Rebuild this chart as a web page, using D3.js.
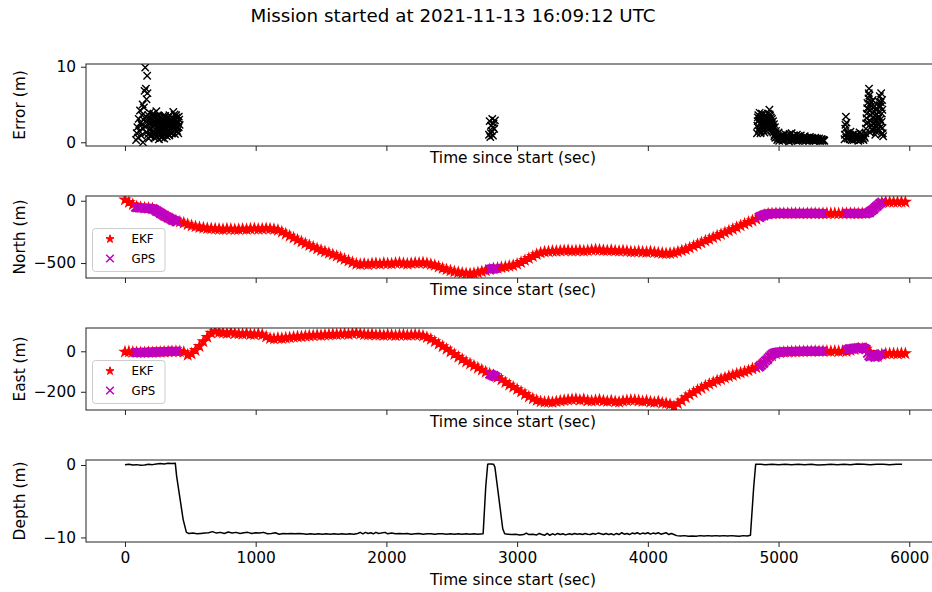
<!DOCTYPE html>
<html>
<head>
<meta charset="utf-8">
<script src="https://cdn.jsdelivr.net/npm/d3@7"></script>
<style>
  body { margin: 0; background: #fff; }
  svg { display: block; }
  text { font-family: "DejaVu Sans", sans-serif; fill: #000; }
</style>
</head>
<body>
<svg id="chart" width="932" height="592"></svg>
<script>
// ---- data -------------------------------------------------------------
const titleText = "Mission started at 2021-11-13 16:09:12 UTC";
const xLabel = "Time since start (sec)";
const xTicks = [0, 1000, 2000, 3000, 4000, 5000, 6000];

const errorTicks = [0, 10];
const northTicks = [0, -500];
const eastTicks = [0, -200];
const depthTicks = [0, -10];

// EKF position estimate, one sample every ekfStep seconds from t = 0
const ekfStep = 30;
const ekfNorth = [
  8, -12, -30, -47, -54, -58, -60, -64, -78, -97,
  -115, -132, -148, -160, -169, -178, -190, -200, -207, -213,
  -218, -221, -224, -225, -228, -229, -226, -228, -231, -229,
  -227, -229, -226, -224, -228, -226, -223, -225, -229, -236,
  -250, -266, -282, -298, -314, -329, -344, -358, -371, -385,
  -397, -409, -420, -432, -444, -457, -469, -481, -495, -507,
  -510, -506, -512, -505, -503, -508, -501, -504, -506, -500,
  -498, -503, -507, -502, -499, -500, -497, -503, -510, -518,
  -530, -542, -552, -561, -569, -575, -580, -584, -586, -583,
  -577, -568, -560, -552, -545, -540, -535, -530, -524, -519,
  -508, -494, -478, -462, -446, -430, -418, -410, -408, -404,
  -405, -402, -400, -398, -403, -401, -399, -403, -400, -396,
  -393, -395, -398, -400, -397, -402, -404, -401, -405, -409,
  -410, -407, -411, -413, -409, -414, -418, -421, -424, -422,
  -418, -410, -400, -390, -378, -364, -350, -337, -322, -309,
  -295, -282, -269, -255, -241, -228, -214, -200, -186, -172,
  -160, -146, -130, -116, -106, -103, -102, -102, -101, -102,
  -102, -101, -102, -103, -102, -101, -102, -103, -102, -102,
  -101, -102, -103, -102, -101, -102, -102, -103, -102, -101,
  -90, -62, -35, -14, -9, -10, -11, -10, -9, -10
];
const ekfEast = [
  -3, -2, -4, -5, -6, -6, -5, -6, -5, -4,
  -3, -2, -1, 0, -1, -4, -18, -12, 5, 25,
  48, 70, 90, 98, 94, 91, 89, 93, 88, 86,
  85, 88, 84, 83, 86, 82, 72, 64, 62, 65,
  64, 66, 68, 70, 72, 73, 75, 77, 78, 80,
  79, 81, 82, 84, 83, 85, 86, 84, 88, 90,
  86, 83, 82, 84, 80, 81, 79, 82, 80, 78,
  80, 81, 79, 80, 82, 80, 76, 69, 60, 48,
  36, 24, 11, -2, -15, -28, -40, -52, -62, -72,
  -82, -92, -102, -111, -119, -128, -140, -153, -166, -177,
  -188, -200, -212, -224, -234, -242, -248, -251, -250, -252,
  -248, -245, -242, -240, -238, -236, -241, -238, -244, -246,
  -243, -240, -245, -247, -244, -249, -251, -246, -243, -241,
  -241, -244, -247, -245, -250, -252, -248, -255, -257, -262,
  -272, -258, -244, -228, -215, -203, -192, -182, -171, -162,
  -153, -145, -138, -131, -124, -118, -112, -106, -101, -95,
  -86, -80, -72, -55, -38, -22, -12, -6, -4, -3,
  -2, -2, -1, -1, 0, 0, 1, 0, 1, 1,
  0, 1, 0, 1, 0, 5, 10, 12, 13, 12,
  -5, -22, -26, -15, -12, -11, -11, -12, -10, -11
];

// GPS fixes (only while surfaced), one every 10 s
const gpsTime = [
  80, 90, 100, 110, 120, 130, 140, 150, 160, 170, 180, 190, 200, 210, 220, 230, 240,
  250, 260, 270, 280, 290, 300, 310, 320, 330, 340, 350, 360, 370, 380, 390, 400,
  2790, 2800, 2810, 2820, 2830, 2840,
  4850, 4860, 4870, 4880, 4890, 4900, 4910, 4920, 4930, 4940,
  4950, 4960, 4970, 4980, 4990, 5000, 5010, 5020, 5030, 5040,
  5050, 5060, 5070, 5080, 5090, 5100, 5110, 5120, 5130, 5140,
  5150, 5160, 5170, 5180, 5190, 5200, 5210, 5220, 5230, 5240,
  5250, 5260, 5270, 5280, 5290, 5300, 5310, 5320, 5330, 5340,
  5520, 5530, 5540, 5550, 5560, 5570, 5580, 5590, 5600, 5610,
  5620, 5630, 5640, 5650, 5660, 5670, 5680, 5690, 5700, 5710,
  5720, 5730, 5740, 5750, 5760, 5770, 5780, 5790
];
const gpsNorth = [
  -52, -55, -54, -57, -56, -58, -57, -59, -60, -59, -61, -62, -63, -66, -68, -74, -79,
  -87, -92, -100, -105, -113, -117, -125, -129, -136, -140, -148, -151, -158, -160, -167, -169,
  -551, -549, -547, -545, -544, -542,
  -133, -128, -124, -118, -115, -110, -108, -105, -104, -103,
  -102, -101, -102, -103, -102, -101, -102, -102, -103, -102,
  -101, -102, -102, -103, -102, -101, -102, -103, -102, -102,
  -101, -102, -103, -102, -101, -102, -102, -103, -102, -101,
  -102, -102, -101, -103, -102, -102, -101, -102, -103, -102,
  -102, -101, -102, -103, -102, -101, -102, -102, -103, -102,
  -101, -102, -102, -101, -103, -102, -100, -96, -90, -82,
  -73, -64, -54, -45, -36, -27, -18, -10
];
const gpsEast = [
  -6, -7, -6, -5, -7, -6, -5, -6, -4, -5, -5, -4, -3, -4, -4, -3, -2,
  -3, -3, -2, -1, -2, -2, -1, 0, -1, -1, 0, 0, 1, 1, 0, 0,
  -112, -115, -118, -121, -124, -127,
  -78, -73, -68, -61, -55, -48, -42, -35, -28, -21,
  -15, -11, -8, -6, -5, -4, -4, -3, -3, -2,
  -2, -2, -1, -2, -1, -1, 0, -1, 0, 0,
  -1, 0, 1, 0, 0, 1, 0, 1, 1, 0,
  1, 0, 1, 1, 0, 1, 1, 0, 1, 0,
  6, 9, 12, 13, 12, 14, 15, 17, 16, 15,
  18, 20, 19, 16, 13, 10, -10, -22, -28, -25,
  -22, -27, -30, -24, -20, -16, -13, -12
];

// GPS position error [time, error]
const errorPoints = [
  [85,0.3],[90,1.2],[95,2.0],[100,0.6],[105,3.1],[110,1.5],[115,4.2],[120,2.6],[125,0.9],
  [130,3.6],[135,5.0],[140,1.8],[145,4.6],[150,6.8],[155,9.9],[160,7.1],[165,5.7],[170,8.8],
  [172,6.5],[175,3.2],[180,1.1],[185,2.4],[190,3.9],[195,0.8],[138,0.0],[128,2.3],[142,3.0],
  [200,1.8],[205,2.9],[210,1.2],[215,3.4],[220,2.2],[225,0.6],[230,2.7],[235,1.6],[240,3.1],
  [245,2.0],[250,1.3],[255,2.6],[260,3.5],[265,1.9],[270,0.9],[275,2.4],[280,3.0],[285,1.5],
  [290,2.8],[295,2.1],[300,3.3],[305,1.2],[310,2.5],[315,1.8],[320,3.0],[325,2.2],[330,1.6],
  [335,2.9],[340,3.6],[345,1.4],[350,2.3],[355,2.8],[360,1.9],[365,3.2],[370,4.0],[375,2.5],
  [380,1.7],[385,2.9],[390,2.1],[395,3.3],[400,1.5],[405,2.6],[410,2.0],[415,3.0],
  [220,3.8],[260,0.4],[300,0.5],[340,1.0],[380,3.7],[240,4.1],[320,0.8],[280,1.1],[360,1.2],
  [152,2.1],[158,3.4],[162,1.3],[168,2.7],[178,3.6],[182,0.5],[188,1.7],[192,2.6],[198,3.2],
  [202,0.9],[208,2.4],[212,3.7],[218,1.5],[222,2.8],[228,3.3],[232,1.1],[238,2.3],[242,0.7],
  [248,2.9],[252,3.6],[258,1.7],[262,2.2],[268,3.3],[272,1.4],[278,2.7],[282,0.6],[288,3.4],
  [292,1.8],[298,2.5],[302,1.0],[308,3.5],[312,2.0],[318,2.6],[322,1.4],[328,3.2],[332,2.4],
  [338,0.9],[342,2.6],[348,3.1],[352,1.2],[358,2.2],[362,2.7],[368,1.4],[372,3.1],[378,2.2],
  [382,1.1],[388,2.5],[392,3.6],[398,1.9],[402,2.8],[408,1.2],[412,3.4],[418,2.3],
  [2785,1.0],[2790,2.8],[2795,0.7],[2800,2.2],[2805,1.5],[2810,3.1],[2815,0.9],[2820,2.5],
  [2825,1.8],[2830,2.9],[2800,1.2],[2815,2.0],
  [4835,1.2],[4840,2.8],[4845,3.6],[4850,1.8],[4855,3.9],[4860,2.4],[4865,1.4],[4870,3.2],
  [4875,2.0],[4880,3.7],[4885,1.6],[4890,2.9],[4895,3.4],[4900,2.2],[4905,1.9],[4910,3.0],
  [4915,2.6],[4920,3.8],[4925,2.3],[4930,4.3],[4935,3.5],[4940,2.7],[4945,1.7],[4950,3.1],
  [4955,2.0],[4960,1.3],[4965,2.4],[4970,1.0],[4975,0.6],[4980,1.5],
  [4838,2.2],[4842,3.3],[4848,1.5],[4852,2.9],[4858,3.4],[4862,1.2],[4868,2.6],[4872,3.8],
  [4878,1.9],[4882,2.5],[4888,3.1],[4892,1.3],[4898,2.6],[4902,3.6],[4908,1.5],[4912,2.4],
  [4918,3.2],[4922,1.8],[4928,2.9],[4932,3.7],[4938,2.1],[4942,3.3],[4948,2.5],[4952,1.5],
  [4958,2.8],[4962,1.9],[4968,0.8],[4972,2.0],[4978,1.2],[4984,0.7],
  [4990,0.3],[5000,1.3],[5010,0.5],[5020,0.9],[5030,0.2],[5040,0.7],[5050,1.1],[5060,0.4],
  [5070,0.8],[5080,0.1],[5090,0.6],[5100,1.2],[5110,0.3],[5120,0.7],[5130,0.5],[5140,1.0],
  [5150,0.2],[5160,0.6],[5170,0.9],[5180,0.3],[5190,0.5],[5200,0.8],[5210,0.2],[5220,0.6],
  [5230,0.4],[5240,0.7],[5250,0.3],[5260,0.5],[5270,0.2],[5280,0.6],[5290,0.4],[5300,0.3],
  [5310,0.5],[5320,0.2],[5330,0.4],[5340,0.3],[5350,0.2],
  [4995,0.6],[5005,0.2],[5015,0.8],[5025,0.4],[5035,1.0],[5045,0.3],[5055,0.6],[5065,0.9],
  [5075,0.4],[5085,1.1],[5095,0.2],[5105,0.6],[5115,0.9],[5125,0.3],[5135,0.6],[5145,0.4],
  [5155,0.8],[5165,0.3],[5175,0.5],[5185,0.2],[5195,0.7],[5205,0.4],[5215,0.3],[5225,0.5],
  [5235,0.2],[5245,0.4],[5255,0.6],[5265,0.3],[5275,0.4],[5285,0.2],[5295,0.5],[5305,0.3],
  [5315,0.2],[5325,0.4],[5335,0.2],[5345,0.3],
  [5505,0.4],[5510,1.8],[5515,3.4],[5520,2.6],[5525,1.2],[5530,0.5],[5540,0.9],[5550,1.4],
  [5560,0.3],[5570,0.7],[5580,1.1],[5590,0.4],[5600,0.8],[5610,0.2],[5620,1.3],[5630,0.5],
  [5640,0.9],[5650,0.3],[5660,0.6],
  [5508,1.0],[5512,2.3],[5518,0.6],[5535,1.2],[5545,0.4],[5555,0.8],[5565,1.0],[5575,0.3],
  [5585,0.6],[5595,1.0],[5605,0.5],[5615,0.7],[5625,0.3],[5635,1.1],[5645,0.5],[5655,0.8],
  [5665,1.2],[5670,2.5],[5675,3.8],[5680,5.2],[5685,4.4],[5690,6.5],[5692,7.1],[5695,6.2],
  [5700,5.0],[5705,3.6],[5710,4.8],[5715,2.2],[5720,3.3],[5725,1.6],[5730,4.1],[5735,2.7],
  [5740,3.5],[5745,1.4],[5750,2.9],[5755,4.4],[5760,3.1],[5765,5.4],[5770,2.3],[5775,6.1],
  [5780,4.7],[5785,6.5],[5790,3.8],[5792,5.6],[5795,1.9],[5800,0.8],[5790,1.1],[5780,2.0],
  [5700,1.3],[5720,5.6],[5740,1.0],[5760,1.8],
  [5668,1.8],[5672,3.2],[5678,4.5],[5682,2.6],[5688,5.8],[5698,4.2],[5702,2.8],[5708,5.3],
  [5712,1.7],[5718,3.9],[5722,2.5],[5728,4.6],[5732,1.9],[5738,3.1],[5742,2.2],[5748,3.7],
  [5752,1.6],[5758,2.6],[5762,4.0],[5768,3.4],[5772,4.9],[5778,3.0],[5782,5.3],[5788,2.7],
  [5794,4.3],[5797,1.2]
];

// vehicle depth [time, depth]
const depthPoints = [
  [0,0.05],[30,0.1],[60,0.0],[90,0.05],[120,-0.05],[150,0.0],[180,0.1],[210,0.05],[240,0.15],
  [270,0.2],[300,0.15],[330,0.25],[360,0.2],[385,0.25],
  [395,-1.5],[420,-4.5],[445,-7.5],[470,-9.3],
  [490,-9.45],[520,-9.4],[550,-9.5],[580,-9.45],[610,-9.4],[640,-9.35],[670,-9.2],[700,-9.4],
  [730,-9.3],[760,-9.45],[790,-9.25],[820,-9.4],[850,-9.3],[880,-9.45],[910,-9.35],[940,-9.3],
  [970,-9.45],[1000,-9.35],[1030,-9.4],[1060,-9.3],[1090,-9.5],[1120,-9.45],[1150,-9.35],
  [1180,-9.55],[1210,-9.45],[1240,-9.5],[1270,-9.45],[1300,-9.5],[1330,-9.45],[1360,-9.5],
  [1390,-9.55],[1420,-9.5],[1450,-9.55],[1480,-9.5],[1510,-9.55],[1540,-9.5],[1570,-9.55],
  [1600,-9.5],[1630,-9.55],[1660,-9.5],[1690,-9.55],[1720,-9.5],[1750,-9.55],[1780,-9.45],
  [1800,-9.3],[1820,-9.5],[1840,-9.3],[1860,-9.45],[1880,-9.35],[1900,-9.5],[1920,-9.3],
  [1940,-9.45],[1960,-9.4],[1990,-9.3],[2010,-9.5],[2040,-9.4],[2070,-9.5],[2100,-9.45],
  [2130,-9.5],[2160,-9.45],[2190,-9.55],[2220,-9.5],[2250,-9.45],[2280,-9.55],[2310,-9.5],
  [2340,-9.5],[2370,-9.55],[2400,-9.5],[2430,-9.5],[2460,-9.55],[2490,-9.5],[2520,-9.55],
  [2550,-9.5],[2580,-9.55],[2610,-9.5],[2640,-9.55],[2670,-9.5],[2700,-9.55],[2740,-9.5],
  [2760,-3.0],[2775,0.1],[2785,0.15],[2800,0.15],[2820,0.1],[2830,-0.3],[2860,-4.5],[2890,-8.8],
  [2905,-9.5],
  [2930,-9.55],[2960,-9.6],[2990,-9.55],[3020,-9.65],[3050,-9.6],[3070,-9.4],[3090,-9.6],
  [3120,-9.55],[3150,-9.65],[3170,-9.45],[3190,-9.6],[3210,-9.7],[3230,-9.45],[3250,-9.7],
  [3270,-9.5],[3290,-9.65],[3310,-9.45],[3330,-9.6],[3350,-9.5],[3370,-9.65],[3400,-9.5],
  [3420,-9.6],[3440,-9.45],[3460,-9.55],[3480,-9.5],[3500,-9.6],[3520,-9.45],[3540,-9.55],
  [3560,-9.6],[3580,-9.45],[3600,-9.55],[3620,-9.4],[3640,-9.5],[3660,-9.6],[3680,-9.45],
  [3700,-9.6],[3720,-9.5],[3740,-9.65],[3760,-9.45],[3780,-9.6],[3800,-9.35],[3820,-9.55],
  [3840,-9.45],[3860,-9.6],[3880,-9.4],[3900,-9.5],[3920,-9.35],[3940,-9.55],[3960,-9.4],
  [3980,-9.5],[4000,-9.35],[4020,-9.55],[4040,-9.4],[4060,-9.5],[4080,-9.35],[4100,-9.55],
  [4120,-9.45],[4140,-9.35],[4160,-9.6],[4180,-9.45],[4200,-9.6],[4220,-9.75],[4250,-9.8],
  [4280,-9.75],[4310,-9.85],[4340,-9.8],[4370,-9.85],[4400,-9.75],[4430,-9.8],[4460,-9.75],
  [4490,-9.8],[4520,-9.75],[4550,-9.8],[4580,-9.75],[4610,-9.8],[4640,-9.75],[4670,-9.8],
  [4700,-9.85],[4730,-9.75],[4760,-9.8],[4785,-9.7],
  [4795,-7.0],[4810,-3.0],[4825,0.1],
  [4860,0.1],[4900,0.05],[4950,0.1],[5000,0.05],[5050,0.1],[5100,0.05],[5150,0.1],[5200,0.05],
  [5250,0.1],[5300,0.0],[5350,0.05],[5400,0.1],[5450,0.05],[5500,0.1],[5550,0.05],[5600,0.15],
  [5650,0.1],[5700,0.05],[5750,0.1],[5800,0.1],[5850,0.05],[5900,0.1],[5945,0.1]
];

// ---- layout ---------------------------------------------------------------
const svg = d3.select("#chart");
const plotLeft = 86, plotRight = 943;
const panelHeight = 82;
const panelTops = [64, 196, 328, 460];
const fontSize = "15.4px";

const x = d3.scaleLinear().domain([-298, 6258]).range([plotLeft, plotRight]);

const ekf = ekfNorth.map((n, i) => ({ t: i * ekfStep, north: n, east: ekfEast[i] }));
const gps = gpsTime.map((t, i) => ({ t, north: gpsNorth[i], east: gpsEast[i] }));

const red = "#ff0000", magenta = "#bf00bf";
const crossPath = r => `M${-r},${-r}L${r},${r}M${-r},${r}L${r},${-r}`;
const starPath = d3.symbol(d3.symbolStar, 30)();
const legendStar = d3.symbol(d3.symbolStar, 20)();

svg.append("text")
  .attr("x", 453).attr("y", 22)
  .attr("text-anchor", "middle")
  .style("font-size", "18.3px")
  .text(titleText);

const panels = [
  { id: "err", label: "Error (m)", domain: [-0.49, 10.36], ticks: errorTicks },
  { id: "north", label: "North (m)", domain: [-620, 38], ticks: northTicks },
  { id: "east", label: "East (m)", domain: [-290, 115], ticks: eastTicks },
  { id: "depth", label: "Depth (m)", domain: [-10.63, 0.69], ticks: depthTicks }
];

panels.forEach((p, idx) => {
  const top = panelTops[idx], bottom = top + panelHeight;
  const y = d3.scaleLinear().domain(p.domain).range([bottom, top]);

  svg.append("clipPath").attr("id", "clip-" + p.id)
    .append("rect").attr("x", plotLeft).attr("y", top)
    .attr("width", plotRight - plotLeft).attr("height", panelHeight);

  const g = svg.append("g").attr("clip-path", `url(#clip-${p.id})`);

  if (p.id === "err") {
    g.selectAll("path.err").data(errorPoints).join("path")
      .attr("transform", d => `translate(${x(d[0])},${y(d[1])})`)
      .attr("d", crossPath(3.7))
      .attr("fill", "none").attr("stroke", "#000").attr("stroke-width", 1.4);
  } else if (p.id === "north" || p.id === "east") {
    const key = p.id;
    g.selectAll("path.ekf").data(ekf).join("path")
      .attr("transform", d => `translate(${x(d.t)},${y(d[key])})`)
      .attr("d", starPath)
      .attr("fill", red).attr("stroke", red).attr("stroke-width", 1.2);
    g.selectAll("path.gps").data(gps).join("path")
      .attr("transform", d => `translate(${x(d.t)},${y(d[key])})`)
      .attr("d", crossPath(4.2))
      .attr("fill", "none").attr("stroke", magenta).attr("stroke-width", 1.8);
  } else {
    g.append("path").datum(depthPoints)
      .attr("d", d3.line().x(d => x(d[0])).y(d => y(d[1])))
      .attr("fill", "none").attr("stroke", "#000").attr("stroke-width", 1.5)
      .attr("stroke-linejoin", "round");
  }

  // frame
  svg.append("rect").attr("x", plotLeft).attr("y", top)
    .attr("width", plotRight - plotLeft).attr("height", panelHeight)
    .attr("fill", "none").attr("stroke", "#222").attr("stroke-width", 1);

  // x axis
  const xa = d3.axisBottom(x).tickValues(xTicks).tickSize(5).tickPadding(5)
    .tickFormat(idx < panels.length - 1 ? "" : d3.format("d"));
  const gx = svg.append("g").attr("transform", `translate(0,${bottom})`).call(xa);
  gx.select(".domain").remove();
  gx.selectAll(".tick line").attr("stroke", "#222");
  gx.selectAll(".tick text").style("font-size", fontSize).attr("fill", "#000")
    .style("font-family", "'DejaVu Sans', sans-serif");

  // y axis
  const ya = d3.axisLeft(y).tickValues(p.ticks).tickSize(5).tickPadding(5).tickFormat(d3.format("d"));
  const gy = svg.append("g").attr("transform", `translate(${plotLeft},0)`).call(ya);
  gy.select(".domain").remove();
  gy.selectAll(".tick line").attr("stroke", "#222");
  gy.selectAll(".tick text").style("font-size", fontSize).attr("fill", "#000")
    .style("font-family", "'DejaVu Sans', sans-serif");

  // axis titles
  const xLabelY = idx < panels.length - 1 ? bottom + 17 : bottom + 43;
  svg.append("text").attr("x", 513).attr("y", xLabelY)
    .attr("text-anchor", "middle").style("font-size", fontSize).text(xLabel);
  svg.append("text")
    .attr("transform", `translate(25,${top + panelHeight / 2}) rotate(-90)`)
    .attr("text-anchor", "middle").style("font-size", fontSize).text(p.label);

  // legend for position panels
  if (p.id === "north" || p.id === "east") {
    const lg = svg.append("g").attr("transform", `translate(${plotLeft + 6.5},${bottom - 49.5})`);
    lg.append("rect").attr("width", 72.5).attr("height", 43).attr("rx", 3)
      .attr("fill", "#fff").attr("fill-opacity", 0.8)
      .attr("stroke", "#cccccc").attr("stroke-width", 1);
    lg.append("path").attr("transform", "translate(17.5,10.5)").attr("d", legendStar)
      .attr("fill", red).attr("stroke", red).attr("stroke-width", 1);
    lg.append("text").attr("x", 39).attr("y", 14.7).style("font-size", "11.8px").text("EKF");
    lg.append("path").attr("transform", "translate(17.5,30)").attr("d", crossPath(3.8))
      .attr("fill", "none").attr("stroke", magenta).attr("stroke-width", 1.5);
    lg.append("text").attr("x", 39).attr("y", 34.2).style("font-size", "11.8px").text("GPS");
  }
});
</script>
</body>
</html>
